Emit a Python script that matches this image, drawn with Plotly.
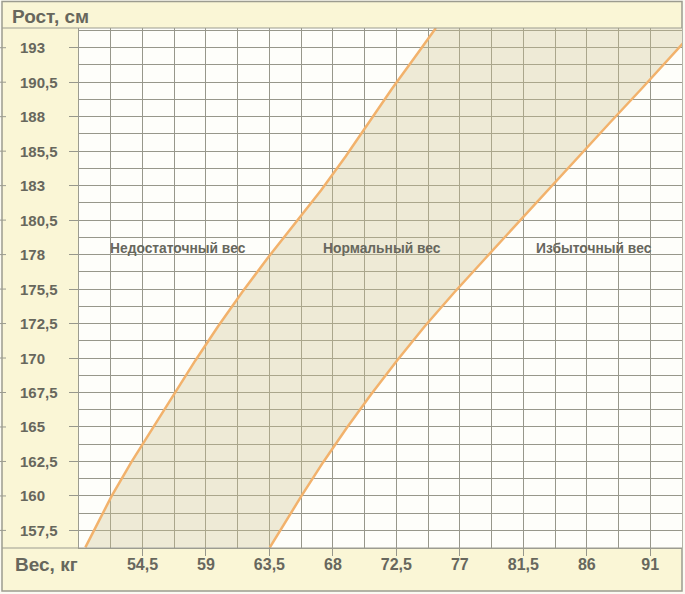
import plotly.graph_objects as go

# ---------------- data ----------------
# left boundary (underweight | normal): height (cm) -> weight (kg)
low_heights = [156.25, 157.5, 160, 162.5, 165, 167.5, 170, 172.5, 175, 177.5,
               180, 182.5, 185, 187.5, 190, 192.5, 194.45]
low_weights = [50.45, 51.05, 52.3, 53.7, 55.2, 56.7, 58.25, 59.85, 61.55, 63.35,
               65.25, 67.15, 68.9, 70.55, 72.2, 73.95, 75.3]

# right boundary (normal | overweight)
high_heights = [156.25, 157.5, 160, 162.5, 165, 167.5, 170, 172.5, 175, 177.5,
                180, 182.5, 185, 187.5, 190, 192.5, 194.45]
high_weights = [63.53, 64.26, 65.75, 67.3, 68.95, 70.7, 72.55, 74.5, 76.6, 78.8,
                81.0, 83.2, 85.4, 87.65, 89.9, 92.1, 93.8]

x_tick_values = [54.5, 59, 63.5, 68, 72.5, 77, 81.5, 86, 90.5]
x_tick_labels = ["54,5", "59", "63,5", "68", "72,5", "77", "81,5", "86", "91"]

y_tick_labels = ["157,5", "160", "162,5", "165", "167,5", "170", "172,5", "175,5",
                 "178", "180,5", "183", "185,5", "188", "190,5", "193"]
y_first, y_last = 157.5, 193.0

zone_labels = ["Недостаточный вес", "Нормальный вес", "Избыточный вес"]
zone_label_weights = [57.0, 71.5, 86.5]
zone_label_height = 178.2

x_title = "Вес, кг"
y_title = "Рост, см"

# label rows are evenly spaced on the printed grid between the first and last label
y_step = (y_last - y_first) / (len(y_tick_labels) - 1)
y_tick_positions = [y_first + y_step * i for i in range(len(y_tick_labels))]

# ---------------- style ----------------
W, H = 685, 594
ML, MR, MT, MB = 79, 3, 28, 46
PW, PH = W - ML - MR, H - MT - MB

def px_x(p):  # pixel -> paper x
    return (p - ML) / PW

def px_y(p):  # pixel -> paper y
    return (H - MB - p) / PH

TEXT = "#67675d"
GRID = "#97978b"
FRAME = "#9c9c90"
BAND = "#faf6d6"
PLOT_BG = "#fefefa"
ORANGE = "#f2b26c"
FONT = "Liberation Sans"

fig = go.Figure()

# shaded "normal" band
fig.add_trace(go.Scatter(
    x=low_weights + high_weights[::-1],
    y=low_heights + high_heights[::-1],
    fill="toself", fillcolor="rgba(208,196,145,0.34)",
    line=dict(width=0), mode="lines", hoverinfo="skip", showlegend=False))

for xs, ys in ((low_weights, low_heights), (high_weights, high_heights)):
    fig.add_trace(go.Scatter(x=xs, y=ys, mode="lines",
                             line=dict(color=ORANGE, width=2.5),
                             showlegend=False))

annotations = []
for v, t in zip(y_tick_positions, y_tick_labels):
    annotations.append(dict(x=px_x(18), y=v, xref="paper", yref="y", text=t,
                            showarrow=False, xanchor="left", yanchor="middle",
                            font=dict(family=FONT, size=15, color=TEXT, weight="bold")))
for t, xv in zip(zone_labels, zone_label_weights):
    annotations.append(dict(x=xv, y=zone_label_height, xref="x", yref="y", text=t,
                            showarrow=False, xanchor="center", yanchor="middle",
                            font=dict(family=FONT, size=13.8, color=TEXT, weight="bold")))
annotations.append(dict(x=px_x(10), y=px_y(16.5), xref="paper", yref="paper", text=y_title,
                        showarrow=False, xanchor="left", yanchor="middle",
                        font=dict(family=FONT, size=19, color=TEXT, weight="bold")))
annotations.append(dict(x=px_x(13), y=px_y(564.5), xref="paper", yref="paper", text=x_title,
                        showarrow=False, xanchor="left", yanchor="middle",
                        font=dict(family=FONT, size=19, color=TEXT, weight="bold")))

shapes = [
    # outer frame with the yellow band
    dict(type="rect", xref="paper", yref="paper", layer="below",
         x0=px_x(2), x1=px_x(682), y0=px_y(591), y1=px_y(1.5),
         fillcolor=BAND, line=dict(color=FRAME, width=1.5)),
    # plot area background
    dict(type="rect", xref="paper", yref="paper", layer="below",
         x0=0, x1=1, y0=0, y1=1, fillcolor=PLOT_BG, line=dict(width=0)),
    # header / footer separators
    dict(type="line", xref="paper", yref="paper", x0=px_x(2), x1=px_x(682),
         y0=1, y1=1, line=dict(color=FRAME, width=1.2)),
    dict(type="line", xref="paper", yref="paper", x0=px_x(2), x1=px_x(682),
         y0=0, y1=0, line=dict(color=FRAME, width=1.2)),
]
for v in y_tick_positions:
    shapes.append(dict(type="line", xref="paper", yref="y", x0=px_x(0), x1=px_x(6),
                       y0=v, y1=v, line=dict(color=FRAME, width=1)))

half = y_step / 2
fig.update_layout(
    width=W, height=H,
    margin=dict(l=ML, r=MR, t=MT, b=MB, pad=0),
    paper_bgcolor="#fbfaf2", plot_bgcolor="rgba(0,0,0,0)",
    showlegend=False,
    annotations=annotations, shapes=shapes,
    xaxis=dict(range=[50, 92.75], tickmode="array", tickvals=x_tick_values,
               ticktext=x_tick_labels, ticks="outside", ticklen=7, tickcolor=GRID,
               ticklabelstandoff=-5,
               tickfont=dict(family=FONT, size=16, color=TEXT, weight="bold"),
               showgrid=True, gridcolor=GRID, gridwidth=1, zeroline=False,
               showline=True, linecolor=FRAME, linewidth=1.2,
               minor=dict(tick0=50, dtick=2.25, showgrid=True, gridcolor=GRID,
                          gridwidth=1, ticks="")),
    yaxis=dict(range=[y_first - half * 1.02, 194.45], tickmode="array",
               tickvals=y_tick_positions,
               showticklabels=False, ticks="outside", ticklen=9, tickcolor=GRID,
               showgrid=True, gridcolor=GRID, gridwidth=1, zeroline=False,
               showline=True, linecolor=FRAME, linewidth=1.2,
               minor=dict(tick0=y_first - half, dtick=half, showgrid=True,
                          gridcolor=GRID, gridwidth=1, ticks="")),
)

fig.write_html("out.html", config={"displayModeBar": False},
               post_script="document.body.style.margin='0';document.body.style.padding='0';")
